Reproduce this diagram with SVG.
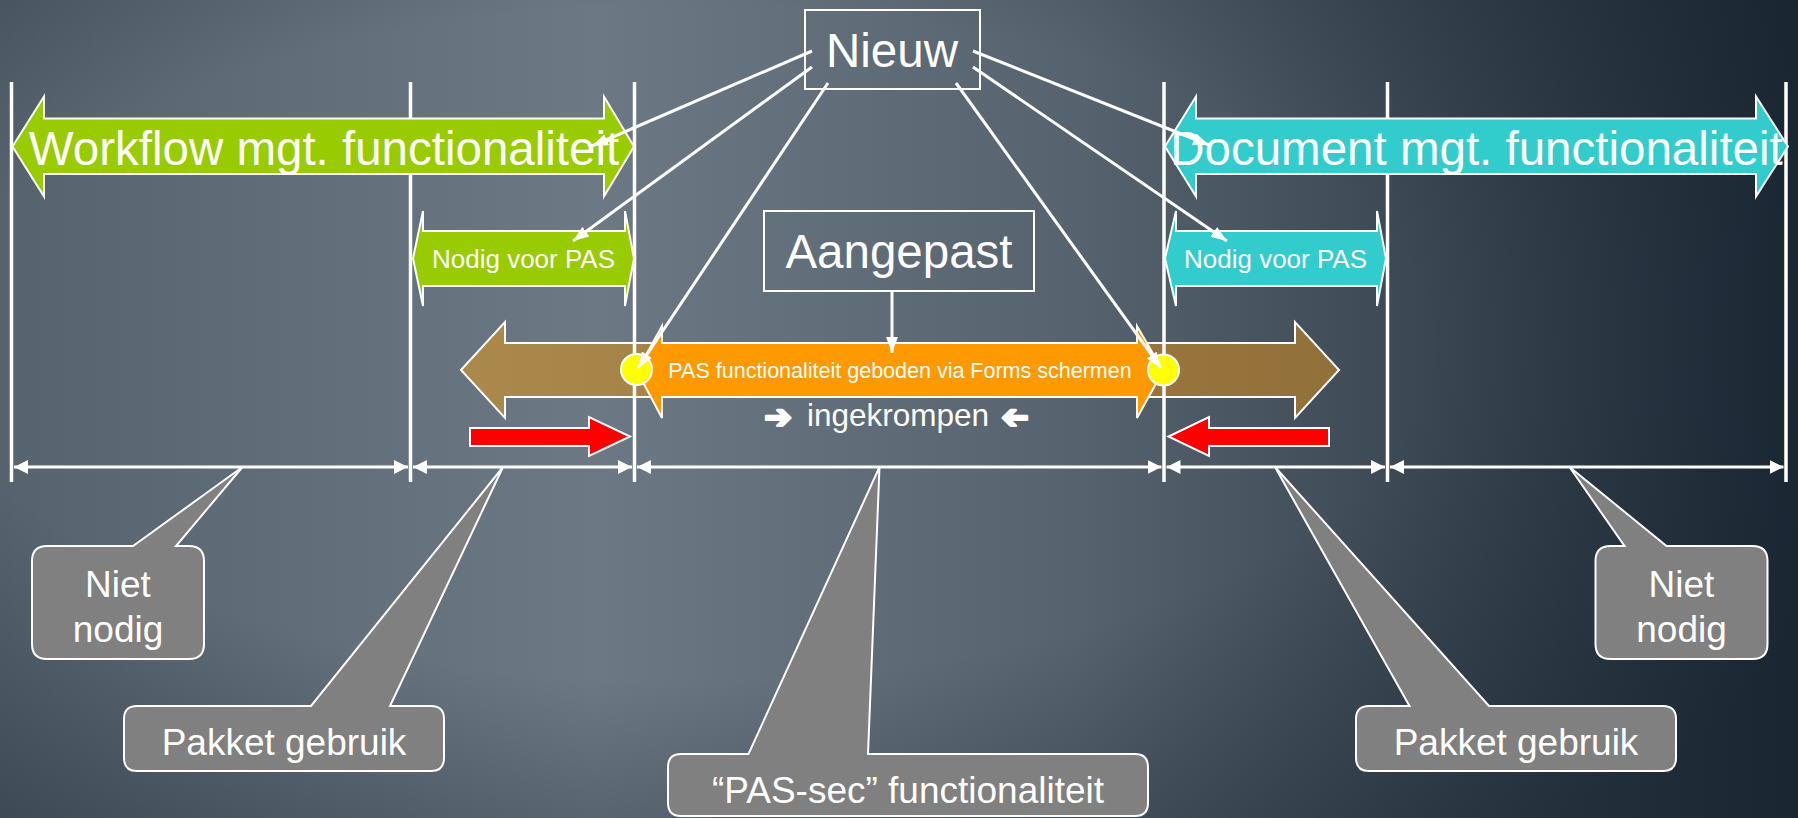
<svg xmlns="http://www.w3.org/2000/svg" width="1798" height="818" viewBox="0 0 1798 818">
<defs>
<linearGradient id="bgx" x1="0" y1="0" x2="1" y2="0">
<stop offset="0" stop-color="#56626d"/>
<stop offset="0.33" stop-color="#6c7883"/>
<stop offset="0.6" stop-color="#56626d"/>
<stop offset="1" stop-color="#1d2a37"/>
</linearGradient>
<radialGradient id="vig" cx="0.38" cy="0.42" r="0.75">
<stop offset="0.55" stop-color="#15202b" stop-opacity="0"/>
<stop offset="1" stop-color="#15202b" stop-opacity="0.45"/>
</radialGradient>
<linearGradient id="brown" x1="0" y1="0" x2="1" y2="0">
<stop offset="0" stop-color="#ab884b"/>
<stop offset="1" stop-color="#927039"/>
</linearGradient>
<marker id="dim" markerUnits="userSpaceOnUse" markerWidth="14" markerHeight="14" refX="14" refY="7" orient="auto-start-reverse" viewBox="0 0 14 14">
<path d="M0,0 L14,7 L0,14 z" fill="#fff"/>
</marker>
<marker id="ah" markerUnits="userSpaceOnUse" markerWidth="16" markerHeight="12" refX="16" refY="6" orient="auto" viewBox="0 0 16 12">
<path d="M0,0 L16,6 L0,12 z" fill="#fff"/>
</marker>
<style>
.t{font-family:"Liberation Sans",Arial,"DejaVu Sans",sans-serif;fill:#fff;text-anchor:middle}
.big{font-size:47.5px}
.mid{font-size:37px}
.sm{font-size:26px}
.glyph{font-family:"DejaVu Sans",sans-serif;font-size:33px;fill:#fff;stroke:#fff;stroke-width:2.5;stroke-linejoin:round;text-anchor:middle}
.arr{stroke:#fff;stroke-width:2;stroke-linejoin:miter}
.vl{stroke:#fff;stroke-width:3.5}
.dl{stroke:#fff;stroke-width:3;marker-start:url(#dim);marker-end:url(#dim)}
.cn{stroke:#fff;stroke-width:3;fill:none;marker-end:url(#ah)}
.co{fill:#808080;stroke:#fff;stroke-width:2}
.box{fill:none;stroke:#fff;stroke-width:2}
</style>
</defs>
<rect width="1798" height="818" fill="url(#bgx)"/>
<rect width="1798" height="818" fill="url(#vig)"/>

<g id="pakket-arrow">
<polygon class="arr" fill="url(#brown)" points="461,370 505,322 505,343 1295,343 1295,322 1339,370 1295,418 1295,397 505,397 505,418"/>
</g>

<g id="dividers">
<line class="vl" x1="11.5" y1="82" x2="11.5" y2="482"/>
<line class="vl" x1="410.5" y1="82" x2="410.5" y2="482"/>
<line class="vl" x1="634.5" y1="82" x2="634.5" y2="482"/>
<line class="vl" x1="1164" y1="82" x2="1164" y2="482"/>
<line class="vl" x1="1387.5" y1="82" x2="1387.5" y2="482"/>
<line class="vl" x1="1786" y1="82" x2="1786" y2="482"/>
</g>

<g id="workflow">
<polygon class="arr" fill="#99cc00" points="12.5,146.5 44,96.5 44,118.5 604,118.5 604,96.5 634,146.5 604,196.5 604,174 44,174 44,196.5"/>
<text class="t big" x="324" y="165">Workflow mgt. functionaliteit</text>
</g>

<g id="document">
<polygon class="arr" fill="#33cccc" points="1165,146.5 1196,96.5 1196,118.5 1756,118.5 1756,96.5 1788,146.5 1756,196.5 1756,174 1196,174 1196,196.5"/>
<text class="t big" x="1476.5" y="165">Document mgt. functionaliteit</text>
</g>

<g id="nodig-workflow">
<polygon class="arr" fill="#99cc00" points="413,258.5 423,211 423,231 625,231 625,211 634,258.5 625,306 625,286 423,286 423,306"/>
<text class="t sm" x="523.5" y="268">Nodig voor PAS</text>
</g>

<g id="nodig-document">
<polygon class="arr" fill="#33cccc" points="1165,258.5 1176,211 1176,231 1377,231 1377,211 1386,258.5 1377,306 1377,286 1176,286 1176,306"/>
<text class="t sm" x="1275.5" y="268">Nodig voor PAS</text>
</g>

<g id="pas-forms">
<polygon class="arr" fill="#ff9900" points="637,371 662,326 662,343 1137,343 1137,326 1163,371 1137,418 1137,397 662,397 662,418"/>
<text class="t" style="font-size:21.5px" x="900" y="378">PAS functionaliteit geboden via Forms schermen</text>
</g>

<g id="joints">
<circle cx="636.5" cy="369.5" r="15.5" fill="#ffff00" stroke="#fff" stroke-width="2"/>
<circle cx="1163.5" cy="370" r="15.5" fill="#ffff00" stroke="#fff" stroke-width="2"/>
</g>

<g id="ingekrompen">
<text class="glyph" x="778" y="428">➔</text>
<text class="t" style="font-size:31.5px" x="898" y="426">ingekrompen</text>
<text class="glyph" transform="translate(2030,0) scale(-1,1)" x="1015" y="428">➔</text>
</g>

<g id="shrink-arrows">
<polygon fill="#ff0000" stroke="#fff" stroke-width="2" points="470,428 589,428 589,417 630,436.5 589,456 589,446 470,446"/>
<polygon fill="#ff0000" stroke="#fff" stroke-width="2" points="1329,428 1209,428 1209,417 1168.5,436.5 1209,456 1209,446 1329,446"/>
</g>

<g id="dimensions">
<line class="dl" x1="14" y1="467" x2="408" y2="467"/>
<line class="dl" x1="413" y1="467" x2="632" y2="467"/>
<line class="dl" x1="637" y1="467" x2="1161.5" y2="467"/>
<line class="dl" x1="1166.5" y1="467" x2="1385" y2="467"/>
<line class="dl" x1="1390" y1="467" x2="1783.5" y2="467"/>
</g>

<g id="callout-niet-links">
<path class="co" d="M47,546 L133,546 L242.5,467 L176,546 L189,546 Q204,546 204,561 L204,644 Q204,659 189,659 L47,659 Q32,659 32,644 L32,561 Q32,546 47,546 Z"/>
<text class="t mid" x="118" y="597">Niet</text>
<text class="t mid" x="118" y="642">nodig</text>
</g>

<g id="callout-pakket-links">
<path class="co" d="M137,706 L311,706 L503,467 L390,706 L431,706 Q444,706 444,719 L444,758 Q444,771 431,771 L137,771 Q124,771 124,758 L124,719 Q124,706 137,706 Z"/>
<text class="t mid" x="284" y="755">Pakket gebruik</text>
</g>

<g id="callout-passec">
<path class="co" d="M681,754 L748.5,754 L879.5,467 L868,754 L1135,754 Q1148,754 1148,767 L1148,803 Q1148,816 1135,816 L681,816 Q668,816 668,803 L668,767 Q668,754 681,754 Z"/>
<text class="t mid" x="908" y="803">“PAS-sec” functionaliteit</text>
</g>

<g id="callout-pakket-rechts">
<path class="co" d="M1369,706 L1409.5,706 L1275,467 L1489,706 L1663,706 Q1676,706 1676,719 L1676,758 Q1676,771 1663,771 L1369,771 Q1356,771 1356,758 L1356,719 Q1356,706 1369,706 Z"/>
<text class="t mid" x="1516" y="755">Pakket gebruik</text>
</g>

<g id="callout-niet-rechts">
<path class="co" d="M1610.5,546 L1624.5,546 L1569.5,467 L1666.5,546 L1752.5,546 Q1767.5,546 1767.5,561 L1767.5,644 Q1767.5,659 1752.5,659 L1610.5,659 Q1595.5,659 1595.5,644 L1595.5,561 Q1595.5,546 1610.5,546 Z"/>
<text class="t mid" x="1681.5" y="597">Niet</text>
<text class="t mid" x="1681.5" y="642">nodig</text>
</g>

<g id="nieuw">
<rect class="box" x="805" y="10" width="175" height="79"/>
<text class="t big" x="892" y="67">Nieuw</text>
</g>

<g id="aangepast">
<rect class="box" x="764" y="211" width="270" height="80"/>
<text class="t big" x="899" y="268">Aangepast</text>
</g>

<g id="connectors">
<line class="cn" x1="812" y1="51" x2="592" y2="146"/>
<line class="cn" x1="812" y1="67" x2="573" y2="241"/>
<line class="cn" x1="828" y1="83" x2="638" y2="368"/>
<line class="cn" x1="956" y1="83" x2="1161" y2="368"/>
<line class="cn" x1="973" y1="67" x2="1227" y2="241"/>
<line class="cn" x1="973" y1="51" x2="1209" y2="145"/>
<line class="cn" x1="892" y1="291" x2="892" y2="353"/>
</g>
</svg>
